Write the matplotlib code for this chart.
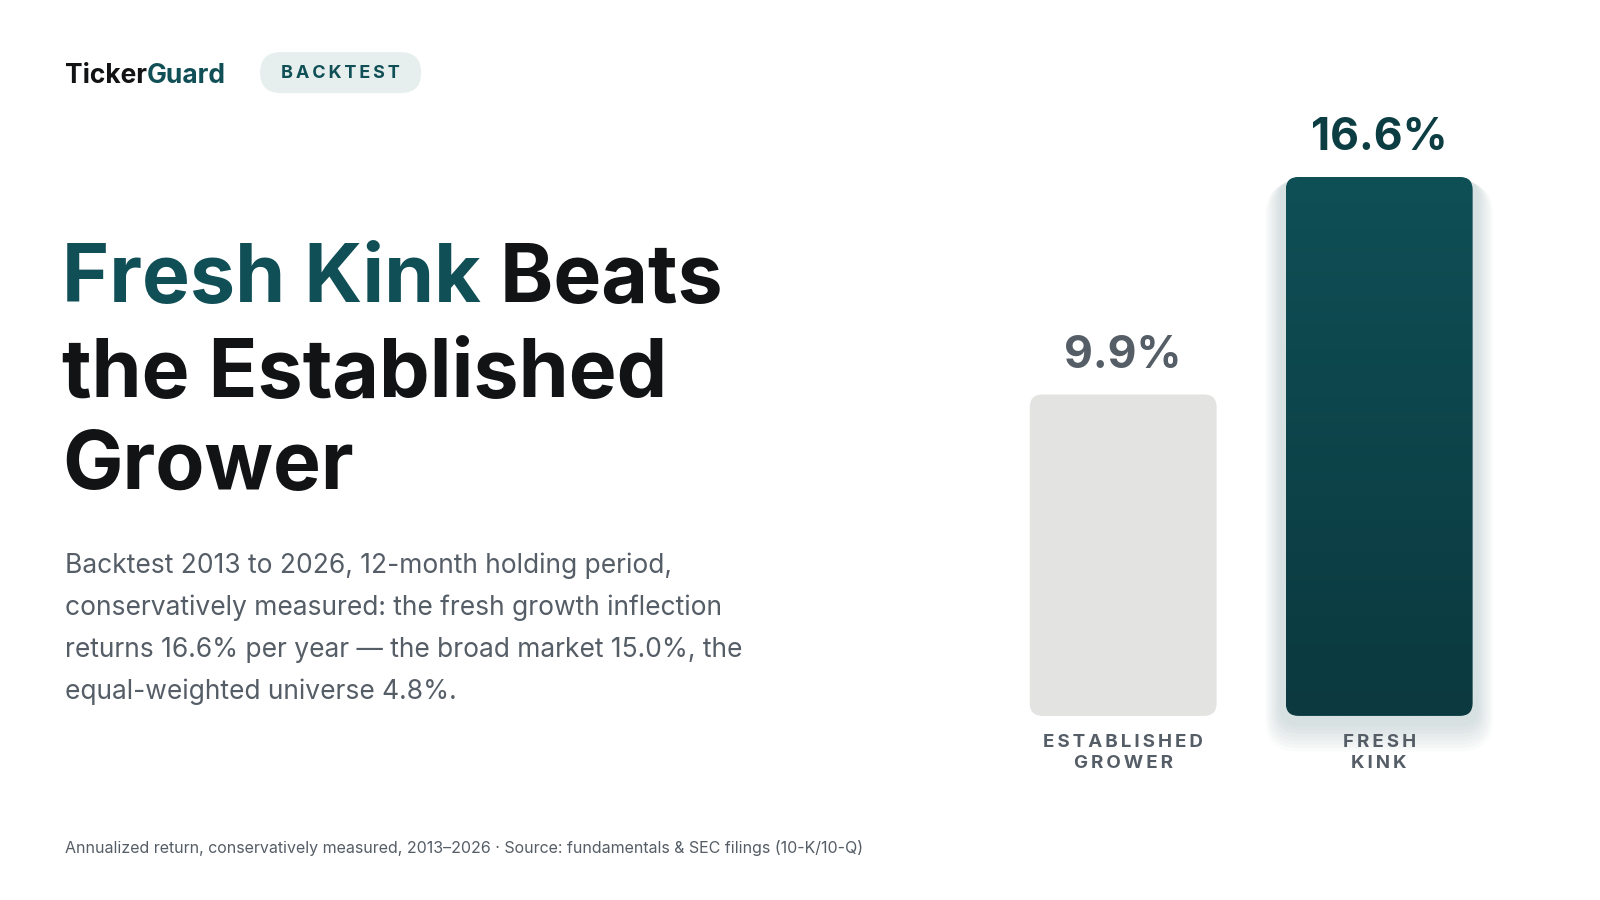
import matplotlib.pyplot as plt
import numpy as np
from matplotlib.patches import FancyBboxPatch
from matplotlib.colors import LinearSegmentedColormap

plt.rcParams["font.family"] = ["Inter", "DejaVu Sans"]

categories = ["ESTABLISHED\nGROWER", "FRESH\nKINK"]
values = [9.9, 16.6]
labels = ["9.9%", "16.6%"]

TEAL = "#0f4f55"
DARK = "#111315"
GREY = "#555d66"

W, H = 1550, 880  # reference pixel frame, used for placement
fig = plt.figure(figsize=(16, 9), dpi=100)
fig.patch.set_facecolor("white")
r = fig.canvas.get_renderer()


def fx(x):
    return x / W


def fy(y):
    return 1 - y / H


def run(parts, x, y, size, weight="bold"):
    # draw text pieces of different colours on one baseline
    for s, c in parts:
        t = fig.text(x, y, s, fontsize=size, fontweight=weight, color=c, va="baseline")
        bb = t.get_window_extent(renderer=r)
        x += bb.width / fig.bbox.width


# logo and badge
run([("Ticker", DARK), ("Guard", TEAL)], fx(63), fy(81), 19)
ax_b = fig.add_axes([0, 0, 1, 1], zorder=-1)
ax_b.set_xlim(0, 1); ax_b.set_ylim(0, 1); ax_b.axis("off")
ax_b.add_patch(FancyBboxPatch((fx(252), fy(91)), fx(156), 40 / H,
                              boxstyle="round,pad=0,rounding_size=0.0128",
                              mutation_aspect=16 / 9, fc="#e6efee", ec="none"))
fig.text(fx(330), fy(72), "\u2009".join("BACKTEST"), fontsize=13,
         fontweight="bold", color=TEAL, ha="center", va="center")

# title
run([("Fresh Kink", TEAL), (" Beats", DARK)], fx(60), fy(295), 58)
run([("the Established", DARK)], fx(60), fy(388), 58)
run([("Grower", DARK)], fx(60), fy(478), 58)

body = ["Backtest 2013 to 2026, 12-month holding period,",
        "conservatively measured: the fresh growth inflection",
        "returns 16.6% per year \u2014 the broad market 15.0%, the",
        "equal-weighted universe 4.8%."]
for i, line in enumerate(body):
    fig.text(fx(63), fy(560 + i * 41), line, fontsize=19, color=GREY, va="baseline")

fig.text(fx(63), fy(834), "Annualized return, conservatively measured, 2013\u20132026 \u00b7 "
         "Source: fundamentals & SEC filings (10-K/10-Q)", fontsize=11.5, color=GREY, va="baseline")

# bars
ax = fig.add_axes([0.622, fy(700), 0.32, fy(173) - fy(700)])
ax.set_xlim(-0.5, 1.5)
ax.set_ylim(0, max(values))
ax.axis("off")
bw = 0.73
bars = ax.bar(range(len(values)), values, width=bw, color="none")
asp = (0.32 * 1600 / 2) / ((fy(173) - fy(700)) * 900 / max(values))
cmap = LinearSegmentedColormap.from_list("g", ["#0f4f56", "#0b393f"])
for i, (b, v) in enumerate(zip(bars, values)):
    x0 = b.get_x()
    if i == 1:
        # soft glow, offset downward
        for k in range(8):
            g = 0.06 + k * 0.02
            ax.add_patch(FancyBboxPatch((x0 - g * 0.4, -g * asp * 0.7), bw + g * 0.8, v + g * asp * 0.6,
                                        boxstyle=f"round,pad=0,rounding_size={0.05 + g * 0.4}",
                                        mutation_aspect=asp, fc="#0f4f55", ec="none",
                                        alpha=0.02, clip_on=False))
    p = FancyBboxPatch((x0, 0), bw, v, boxstyle="round,pad=0,rounding_size=0.05",
                       mutation_aspect=asp, fc="#e3e3e1" if i == 0 else "none", ec="none")
    ax.add_patch(p)
    if i == 1:
        im = ax.imshow(np.linspace(0, 1, 256).reshape(-1, 1), cmap=cmap, aspect="auto",
                       extent=(x0, x0 + bw, 0, v), origin="upper")
        im.set_clip_path(p)
    ax.text(i, v + 0.55, labels[i], ha="center", va="bottom", fontsize=32, fontweight="bold",
            color=GREY if i == 0 else "#0c3d43")
    ax.text(i, -0.55, "\n".join("\u2009".join(w) for w in categories[i].split("\n")),
            ha="center", va="top", fontsize=13.5, fontweight="bold", color=GREY, linespacing=1.3)
ax.set_xlim(-0.5, 1.5)
ax.set_ylim(0, max(values))

fig.savefig("out.png", dpi=100, facecolor="white")
